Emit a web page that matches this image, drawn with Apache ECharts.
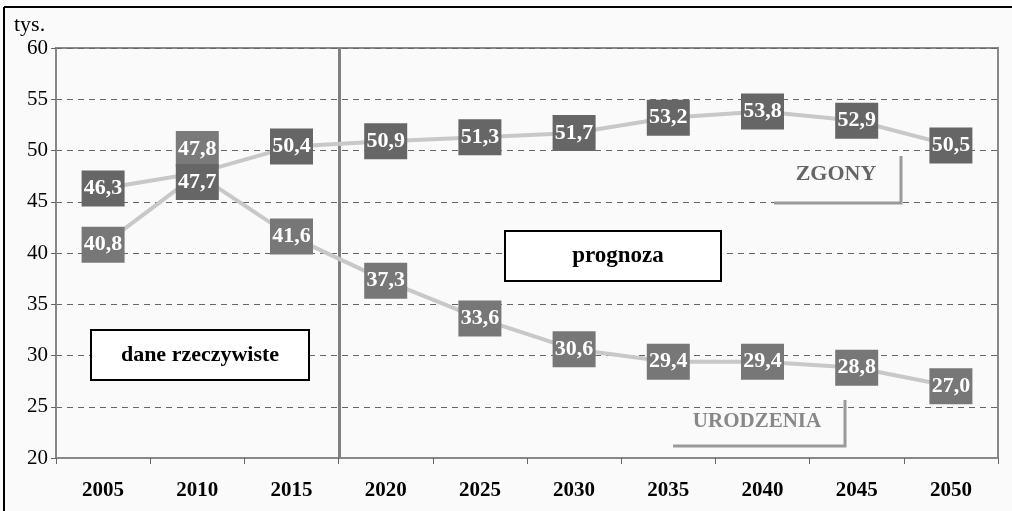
<!DOCTYPE html>
<html>
<head>
<meta charset="utf-8">
<script src="https://cdn.jsdelivr.net/npm/echarts@6/dist/echarts.min.js"></script>
<style>
  html, body { margin: 0; padding: 0; background: #fafafa; }
  #chart { width: 1012px; height: 511px; }
</style>
</head>
<body>
<div id="chart"></div>
<script>
var years = ['2005', '2010', '2015', '2020', '2025', '2030', '2035', '2040', '2045', '2050'];
var zgony = [46.3, 47.8, 50.4, 50.9, 51.3, 51.7, 53.2, 53.8, 52.9, 50.5];
var urodzenia = [40.8, 47.7, 41.6, 37.3, 33.6, 30.6, 29.4, 29.4, 28.8, 27.0];
var yTicks = [20, 25, 30, 35, 40, 45, 50, 55, 60];

var serif = '"Liberation Serif", "DejaVu Serif", serif';

function fmt (p) {
  return p.value.toFixed(1).replace('.', ',');
}

function boxLabel (color) {
  return {
    show: true,
    position: 'inside',
    formatter: fmt,
    color: '#fff',
    fontFamily: serif,
    fontWeight: 'bold',
    fontSize: 22,
    backgroundColor: color,
    width: 43,
    height: 36,
    lineHeight: 36,
    align: 'center',
    verticalAlign: 'middle'
  };
}

// at 2010 both values overlap, so push one label up and the other down
var zgonyData = zgony.map(function (v, i) {
  return i === 1 ? { value: v, label: { offset: [0, -24], backgroundColor: '#7a7a7a' } } : v;
});
var urodzeniaData = urodzenia.map(function (v, i) {
  return i === 1 ? { value: v, label: { offset: [0, 8], backgroundColor: '#666' } } : v;
});

var chart = echarts.init(document.getElementById('chart'));

var option = {
  backgroundColor: '#fafafa',
  animation: false,
  grid: { left: 56, right: 14, top: 48, bottom: 53, show: true, borderColor: '#888', borderWidth: 2, backgroundColor: 'transparent' },
  xAxis: {
    type: 'category',
    data: years,
    boundaryGap: true,
    axisLine: { lineStyle: { color: '#888', width: 2 } },
    axisTick: { show: true, length: 6, lineStyle: { color: '#666' } },
    axisLabel: { color: '#000', fontFamily: serif, fontWeight: 'bold', fontSize: 21, margin: 22 }
  },
  yAxis: {
    type: 'value',
    min: yTicks[0],
    max: yTicks[yTicks.length - 1],
    interval: 5,
    axisLine: { show: true, lineStyle: { color: '#888', width: 2 } },
    axisTick: { show: true, length: 5, lineStyle: { color: '#666' } },
    axisLabel: { color: '#000', fontFamily: serif, fontSize: 21, margin: 8 },
    splitLine: { lineStyle: { color: '#666', type: [6, 5], width: 1 } }
  },
  series: [
    {
      name: 'ZGONY',
      type: 'line',
      data: zgonyData,
      symbol: 'circle',
      symbolSize: 4,
      showSymbol: true,
      itemStyle: { color: '#c8c8c8' },
      lineStyle: { color: '#c8c8c8', width: 4 },
      label: boxLabel('#666'),
      z: 3
    },
    {
      name: 'URODZENIA',
      type: 'line',
      data: urodzeniaData,
      symbol: 'circle',
      symbolSize: 4,
      showSymbol: true,
      itemStyle: { color: '#c8c8c8' },
      lineStyle: { color: '#c8c8c8', width: 4 },
      label: boxLabel('#777'),
      z: 3
    }
  ],
  graphic: [
    // outer frame (top and left only visible)
    { type: 'line', shape: { x1: 4, y1: 7, x2: 1012, y2: 7 }, style: { stroke: '#000', lineWidth: 2 } },
    { type: 'line', shape: { x1: 4, y1: 7, x2: 4, y2: 511 }, style: { stroke: '#000', lineWidth: 2 } },
    { type: 'text', left: 14, top: 14, style: { text: 'tys.', font: '22px ' + serif, fill: '#000' } },
    // split between real data and forecast
    { type: 'rect', shape: { x: 338, y: 48, width: 3, height: 410 }, style: { fill: '#808080' }, z: 2 },
    // text boxes
    { type: 'rect', shape: { x: 91, y: 330, width: 218, height: 50 }, style: { fill: '#fff', stroke: '#000', lineWidth: 2 }, z: 5 },
    { type: 'text', x: 200, y: 355, style: { text: 'dane rzeczywiste', font: 'bold 22px ' + serif, fill: '#000', align: 'center', verticalAlign: 'middle' }, z: 6 },
    { type: 'rect', shape: { x: 505, y: 231, width: 216, height: 50 }, style: { fill: '#fff', stroke: '#000', lineWidth: 2 }, z: 5 },
    { type: 'text', x: 618, y: 256, style: { text: 'prognoza', font: 'bold 23px ' + serif, fill: '#000', align: 'center', verticalAlign: 'middle' }, z: 6 },
    // series captions with shadow corners
    { type: 'text', x: 836, y: 174, style: { text: 'ZGONY', font: 'bold 22px ' + serif, fill: '#666', align: 'center', verticalAlign: 'middle' }, z: 6 },
    { type: 'polyline', shape: { points: [[774, 203], [901, 203], [901, 156]] }, style: { stroke: '#9a9a9a', lineWidth: 3, fill: null }, z: 5 },
    { type: 'text', x: 757, y: 422, style: { text: 'URODZENIA', font: 'bold 21px ' + serif, fill: '#888', align: 'center', verticalAlign: 'middle' }, z: 6 },
    { type: 'polyline', shape: { points: [[673, 446], [845, 446], [845, 400]] }, style: { stroke: '#9a9a9a', lineWidth: 3, fill: null }, z: 5 }
  ]
};

chart.setOption(option);
</script>
</body>
</html>
